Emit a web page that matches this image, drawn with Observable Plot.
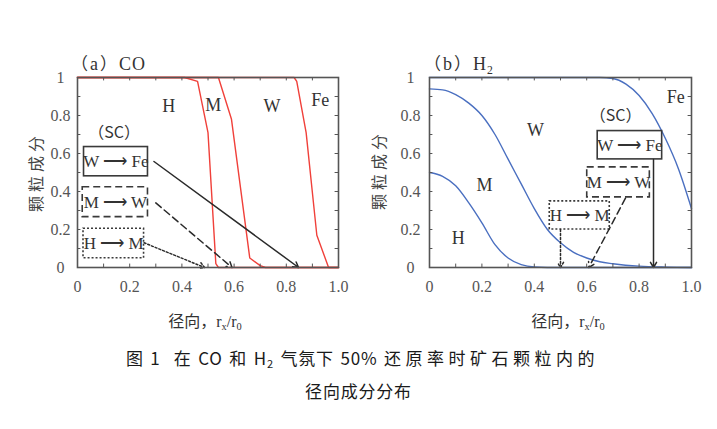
<!DOCTYPE html>
<html><head><meta charset="utf-8">
<script src="https://cdn.jsdelivr.net/npm/d3@7"></script>
<script src="https://cdn.jsdelivr.net/npm/@observablehq/plot@0.6"></script>
<style>
body{margin:0;background:#fff;}
#wrap{position:relative;width:717px;height:429px;overflow:hidden;background:#fff;}
.pl{position:absolute;top:40px;}
.ttl{position:absolute;font-family:"Liberation Serif",serif;font-size:18px;color:#333;white-space:nowrap;line-height:1;letter-spacing:1px;}
.ttl .p{font-family:"Noto Sans CJK SC",sans-serif;font-size:17px;display:inline-block;width:20px;text-align:center;}
.xl{position:absolute;font-family:"Liberation Serif","Noto Sans CJK SC",serif;font-size:16px;color:#333;white-space:nowrap;line-height:1;transform:translate(-50%,-50%);}
.yl{position:absolute;font-family:"Noto Sans CJK SC",sans-serif;font-size:16px;color:#444;white-space:nowrap;line-height:1;letter-spacing:4px;transform:translate(-50%,-50%) rotate(-90deg);}
sub{font-size:0.65em;vertical-align:-0.3em;line-height:0;}
.cap{position:absolute;left:0;width:717px;text-align:center;font-family:"Noto Sans CJK SC",sans-serif;font-size:17px;font-weight:400;color:#1a1a1a;white-space:nowrap;line-height:1;letter-spacing:0.8px;word-spacing:2px;}
.cap .w{letter-spacing:4.5px;}
</style></head>
<body><div id="wrap"></div>
<script>
// ---------- data ----------
const xTicks = [0, 0.2, 0.4, 0.6, 0.8, 1.0];
const xTickLabels = ["0", "0.2", "0.4", "0.6", "0.8", "1.0"];
const yTicks = [0, 0.2, 0.4, 0.6, 0.8, 1.0];
const yTickLabels = ["0", "0.2", "0.4", "0.6", "0.8", "1"];
const minorTicks = [0.1, 0.2, 0.3, 0.4, 0.5, 0.6, 0.7, 0.8, 0.9];

// (a) CO – boundaries between phases
const coHMx = [0, 0.41, 0.46, 0.50, 0.53, 0.54, 1.0];
const coHMy = [1, 1, 0.98, 0.71, 0.02, 0, 0];
const coMWx = [0, 0.54, 0.59, 0.66, 0.70, 0.72, 1.0];
const coMWy = [1, 1, 0.78, 0.05, 0.01, 0, 0];
const coWFex = [0, 0.83, 0.84, 0.876, 0.917, 0.962, 1.0];
const coWFey = [1, 1, 0.98, 0.71, 0.17, 0, 0];

// (b) H2 – boundaries between phases
const h2HMx = [0, 0.05, 0.1, 0.15, 0.2, 0.25, 0.3, 0.35, 0.4, 0.5, 1.0];
const h2HMy = [0.5, 0.48, 0.43, 0.34, 0.235, 0.12, 0.05, 0.015, 0.003, 0, 0];
const h2MWx = [0, 0.05, 0.1, 0.15, 0.2, 0.25, 0.3, 0.35, 0.4, 0.45, 0.5, 0.55, 0.6, 0.65, 0.7, 0.8, 0.9, 1.0];
const h2MWy = [0.94, 0.935, 0.91, 0.865, 0.8, 0.7, 0.57, 0.44, 0.31, 0.2, 0.13, 0.08, 0.05, 0.03, 0.02, 0.007, 0.002, 0];
const h2WFex = [0, 0.6, 0.65, 0.7, 0.75, 0.8, 0.85, 0.9, 0.95, 1.0];
const h2WFey = [1, 1, 1, 0.995, 0.965, 0.905, 0.81, 0.68, 0.52, 0.31];

// phase labels
const phaseNames = ["H", "M", "W", "Fe"];
const coPhaseX = [0.35, 0.52, 0.745, 0.93];
const coPhaseY = [0.85, 0.855, 0.85, 0.88];
const h2PhaseX = [0.11, 0.21, 0.405, 0.94];
const h2PhaseY = [0.155, 0.435, 0.72, 0.895];

// (SC) legend boxes: reaction, style
const boxText = ["W ⟶ Fe", "M ⟶ W", "H ⟶ M"];
const boxDash = [null, "7,4", "2,2"];
const coBoxX1 = [0.025, 0.02, 0.023], coBoxX2 = [0.27, 0.27, 0.255];
const coBoxY1 = [0.48, 0.265, 0.049], coBoxY2 = [0.634, 0.422, 0.204];
const h2BoxX1 = [0.642, 0.602, 0.459], h2BoxX2 = [0.888, 0.841, 0.688];
const h2BoxY1 = [0.569, 0.369, 0.2], h2BoxY2 = [0.718, 0.527, 0.348];
// arrows from boxes to reaction-front positions
const coArrX1 = [0.293, 0.30, 0.255], coArrY1 = [0.558, 0.34, 0.13];
const coArrX2 = [0.847, 0.592, 0.487], coArrY2 = [0, 0, 0];
const h2ArrX1 = [0.855, 0.748, 0.5], h2ArrY1 = [0.569, 0.365, 0.2];
const h2ArrX2 = [0.855, 0.608, 0.5], h2ArrY2 = [0, 0, 0];
const scPos = {a: [0.14, 0.707], b: [0.71, 0.80]};

// ---------- build ----------
const zip = (xs, ys) => xs.map((x, i) => ({x, y: ys[i]}));

function panel({lines, color, curve, phX, phY, bx1, bx2, by1, by2, ax1, ay1, ax2, ay2, sc, width, marginLeft, marginRight, tickPad}) {
  const boxes = boxText.map((t, i) => ({t, dash: boxDash[i], x1: bx1[i], x2: bx2[i], y1: by1[i], y2: by2[i]}));
  const arrows = boxText.map((t, i) => ({dash: boxDash[i], x1: ax1[i], y1: ay1[i], x2: ax2[i], y2: ay2[i]}));
  const phases = phaseNames.map((t, i) => ({t, x: phX[i], y: phY[i]}));
  const marks = [];
  lines.forEach(l => marks.push(Plot.line(l, {x: "x", y: "y", stroke: color, strokeWidth: 1.4, curve})));
  boxes.forEach(b => {
    marks.push(Plot.rect([b], {x1: "x1", x2: "x2", y1: "y1", y2: "y2", fill: "none", stroke: "#3a3a3a", strokeWidth: 1.6, strokeDasharray: b.dash}));
    marks.push(Plot.text([b], {x: d => (d.x1 + d.x2) / 2, y: d => (d.y1 + d.y2) / 2, text: "t", fontSize: 17, fill: "#333"}));
  });
  arrows.forEach(a => marks.push(Plot.arrow([a], {x1: "x1", y1: "y1", x2: "x2", y2: "y2", stroke: "#2a2a2a", strokeWidth: 1.5, headLength: 6, strokeDasharray: a.dash})));
  marks.push(Plot.text(phases, {x: "x", y: "y", text: "t", fontSize: 18, fill: "#333"}));
  marks.push(Plot.text(["（SC）"], {x: () => sc[0], y: () => sc[1], fontSize: 16, fill: "#333", className: "cjkmark"}));
  // inward minor ticks on all four sides
  marks.push(Plot.ruleX(minorTicks, {x: d => d, y1: 0, y2: 0.018, stroke: "#555", strokeWidth: 1}));
  marks.push(Plot.ruleX(minorTicks, {x: d => d, y1: 0.982, y2: 1, stroke: "#555", strokeWidth: 1}));
  marks.push(Plot.ruleY(minorTicks, {y: d => d, x1: 0, x2: 0.013, stroke: "#555", strokeWidth: 1}));
  marks.push(Plot.ruleY(minorTicks, {y: d => d, x1: 0.987, x2: 1, stroke: "#555", strokeWidth: 1}));
  marks.push(Plot.frame({stroke: "#555", strokeWidth: 1.6}));
  marks.push(Plot.axisX({ticks: xTicks, tickFormat: d => xTickLabels[xTicks.indexOf(d)], tickSize: 0, tickPadding: 13, fontSize: 16, fontVariant: "normal", fill: "#555", label: null}));
  marks.push(Plot.axisY({ticks: yTicks, tickFormat: d => yTickLabels[yTicks.indexOf(d)], tickSize: 0, tickPadding: tickPad, textAnchor: "middle", fontSize: 16, fontVariant: "normal", fill: "#555", label: null}));
  const svg = Plot.plot({
    width, height: 300, marginLeft, marginRight, marginTop: 37, marginBottom: 73,
    x: {domain: [0, 1]}, y: {domain: [0, 1]},
    style: {background: "transparent", color: "#555", overflow: "visible", fontSize: "16px"},
    marks
  });
  svg.querySelectorAll("text").forEach(t => { t.style.fontFamily = '"Liberation Serif", "Times New Roman", serif'; });
  svg.querySelectorAll(".cjkmark text").forEach(t => { t.style.fontFamily = '"Noto Sans CJK SC", sans-serif'; });
  return svg;
}

const wrap = document.getElementById("wrap");
const pa = panel({
  lines: [zip(coHMx, coHMy), zip(coMWx, coMWy), zip(coWFex, coWFey)],
  color: "#f0403a", curve: "linear",
  phX: coPhaseX, phY: coPhaseY,
  bx1: coBoxX1, bx2: coBoxX2, by1: coBoxY1, by2: coBoxY2,
  ax1: coArrX1, ay1: coArrY1, ax2: coArrX2, ay2: coArrY2,
  sc: scPos.a, width: 358, marginLeft: 77, marginRight: 20, tickPad: 17
});
pa.classList.add("pl"); pa.style.left = "0px";
const pb = panel({
  lines: [zip(h2HMx, h2HMy), zip(h2MWx, h2MWy), zip(h2WFex, h2WFey)],
  color: "#4a6fc0", curve: "monotone-x",
  phX: h2PhaseX, phY: h2PhaseY,
  bx1: h2BoxX1, bx2: h2BoxX2, by1: h2BoxY1, by2: h2BoxY2,
  ax1: h2ArrX1, ay1: h2ArrY1, ax2: h2ArrX2, ay2: h2ArrY2,
  sc: scPos.b, width: 359, marginLeft: 71, marginRight: 26, tickPad: 19
});
pb.classList.add("pl"); pb.style.left = "358px";
wrap.appendChild(pa); wrap.appendChild(pb);

function add(cls, html, css) {
  const d = document.createElement("div");
  d.className = cls; d.innerHTML = html; Object.assign(d.style, css);
  wrap.appendChild(d);
}
add("ttl", '<span class="p">（</span>a<span class="p">）</span>CO', {left: "70px", top: "54px"});
add("ttl", '<span class="p">（</span>b<span class="p">）</span>H<sub>2</sub>', {left: "423px", top: "54px"});
add("xl", "径向，r<sub>x</sub>/r<sub>0</sub>", {left: "205px", top: "322px"});
add("xl", "径向，r<sub>x</sub>/r<sub>0</sub>", {left: "568px", top: "322px"});
add("yl", "颗粒成分", {left: "35px", top: "172px"});
add("yl", "颗粒成分", {left: "378px", top: "170px"});
add("cap", '图 1&nbsp; 在 CO 和 H<sub>2</sub> 气氛下 50% <span class="w">还原率时矿石颗粒内的</span>', {top: "349px", paddingLeft: "8px", boxSizing: "border-box"});
add("cap", "径向成分分布", {top: "382px"});
</script>
</body></html>
